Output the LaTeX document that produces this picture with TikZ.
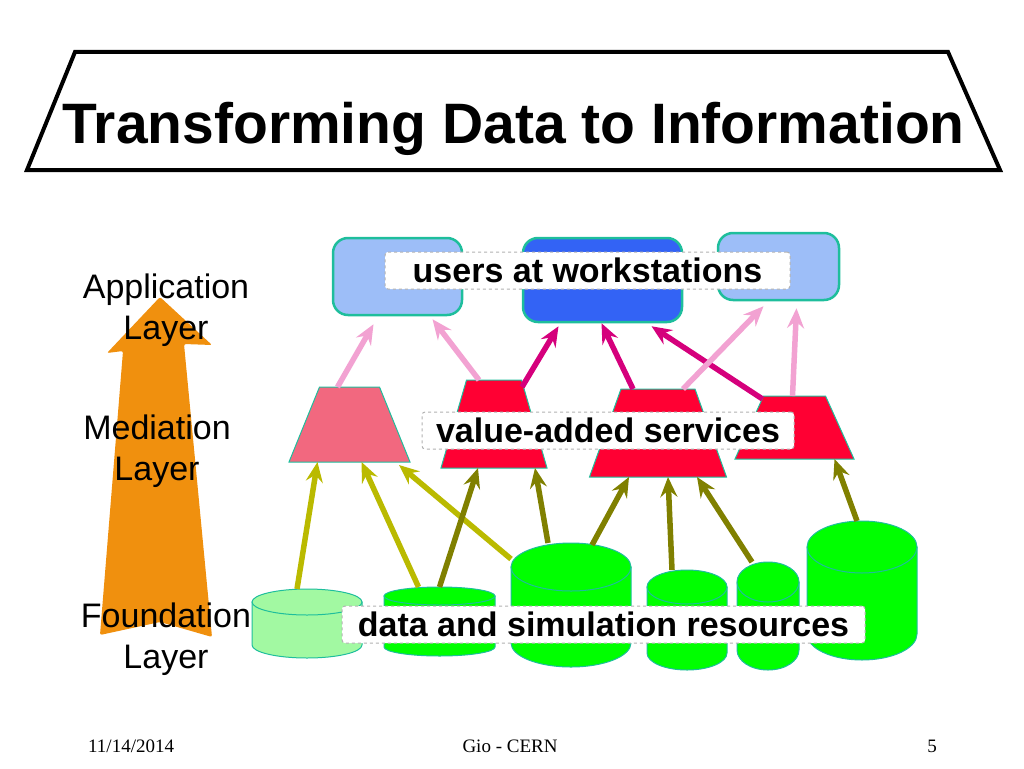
\documentclass[tikz,border=0pt]{standalone}
\usepackage{fontspec}
\setmainfont{Liberation Sans}
\newfontfamily\footfont{Liberation Serif}
\usetikzlibrary{arrows.meta}

\definecolor{PaleBlue}{HTML}{9DBEF8}
\definecolor{DeepBlue}{HTML}{3363F5}
\definecolor{Turquoise}{HTML}{1EBE9C}
\definecolor{Salmon}{HTML}{F2687F}
\definecolor{Crimson}{HTML}{FF0033}
\definecolor{Blush}{HTML}{F2A2D2}
\definecolor{Fuchsia}{HTML}{D5007C}
\definecolor{Mustard}{HTML}{BABA00}
\definecolor{OliveDrab}{HTML}{808000}
\definecolor{Mint}{HTML}{A2F9A2}
\definecolor{Neon}{HTML}{00FF00}
\definecolor{Tangerine}{HTML}{F0900E}

\tikzset{
  station/.style={draw=Turquoise, line width=2.5pt, rounded corners=15pt, inner sep=0pt},
  spot/.style={inner sep=0pt, outer sep=0pt},
  rim/.style={draw=Turquoise, line width=1pt},
  tag/.style={draw=gray!60, dashed, line width=1pt, fill=white, rounded corners=3pt, inner sep=0pt, minimum height=37pt, font=\fontsize{34}{40}\selectfont\bfseries},
  layer/.style={align=center, font=\fontsize{34}{40.5}\selectfont},
  feed/.style={line width=5.5pt, -{Stealth[length=20pt, width=17pt, inset=7pt]}},
  foot/.style={inner sep=0pt, font=\footfont\fontsize{19}{23}\selectfont},
}

% svc: name, centre x, top y, bottom y, top half width, bottom half width, colour
\newcommand\svc[7]{%
  \node[spot, minimum width=2*#6pt, minimum height=#4pt-#3pt, anchor=north] (#1) at (#2,-#3) {};
  \filldraw[rim, fill=#7] (#2-#5,-#3) -- (#2+#5,-#3) -- (#2+#6,-#4) -- (#2-#6,-#4) -- cycle;
}

% can: name, left x, top y, width, height, ellipse radius, colour
\newcommand\can[7]{%
  \node[spot, minimum width=#4pt, minimum height=#5pt, anchor=north west] (#1) at (#2,-#3) {};
  \filldraw[rim, fill=#7] (#2,-#3-#6) -- ++(0,-#5+2*#6) arc[start angle=180, end angle=360, x radius=#4/2, y radius=#6] -- ++(0,#5-2*#6) -- cycle;
  \filldraw[rim, fill=#7] (#2+#4/2,-#3-#6) ellipse[x radius=#4/2, y radius=#6];
}

\begin{document}
\begin{tikzpicture}[x=1pt, y=1pt]
    \useasboundingbox (0,0) rectangle (1024,-768);

    % title
    \draw[line width=4pt] (75,-52) -- (948,-52) -- (1000,-170) -- (27,-170) -- cycle;
    \node[font=\fontsize{57}{60}\selectfont\bfseries, anchor=base] (title) at (513.5,-143) {Transforming Data to Information};

    % layers
    \fill[Tangerine, rounded corners=2pt] (160,-297) -- (212,-345) -- (184,-344) -- (212,-637) -- (160,-622) -- (100,-635) -- (123,-351) -- (107,-353) -- cycle;
    \node[layer] (app) at (166,-310) {Application\\Layer};
    \node[layer] (med) at (157,-451) {Mediation\\Layer};
    \node[layer] (fou) at (166,-639) {Foundation\\Layer};

    % workstations
    \node[station, fill=PaleBlue, minimum width=129pt, minimum height=77pt] (b1) at (397.5,-276.5) {};
    \node[station, fill=DeepBlue, minimum width=159pt, minimum height=84pt] (b2) at (602.5,-280) {};
    \node[station, fill=PaleBlue, minimum width=121pt, minimum height=67pt] (b3) at (778.5,-266.5) {};

    % mediators
    \svc{t1}{349.5}{387}{462}{30}{60.5}{Salmon}
    \svc{t2}{494}{380}{468}{27.5}{53}{Crimson}
    \svc{t3}{658}{389}{477}{37}{68.5}{Crimson}
    \svc{t4}{794.5}{396}{459}{31}{59.5}{Crimson}

    % resources
    \can{c1}{252}{589}{110}{69}{13}{Mint}
    \can{c2}{384}{587}{111}{69}{9}{Neon}
    \can{c3}{511}{543}{120}{124}{24}{Neon}
    \can{c4}{647}{570}{80}{100}{17}{Neon}
    \can{c5}{737}{562}{62}{108}{20}{Neon}
    \can{c6}{807}{521}{110}{139}{26}{Neon}

    \draw[feed, Fuchsia] ([xshift=28pt,yshift=-7pt]t2.north) -- ([xshift=-44pt,yshift=-3pt]b2.south);
    \draw[feed, Fuchsia] ([xshift=-25pt]t3.north) -- ([xshift=-1pt]b2.south);
    \draw[feed, Fuchsia] ([xshift=-32pt,yshift=-3pt]t4.north) -- ([xshift=49pt,yshift=-3pt]b2.south);
    \draw[feed, Blush] ([xshift=-12pt]t1.north) -- ([xshift=-24pt,yshift=-8pt]b1.south);
    \draw[feed, Blush] ([xshift=-15pt]t2.north) -- ([xshift=35pt,yshift=-3pt]b1.south);
    \draw[feed, Blush] ([xshift=25pt]t3.north) -- ([xshift=-15pt,yshift=-5pt]b3.south);
    \draw[feed, Blush] ([xshift=-2pt]t4.north) -- ([xshift=18pt,yshift=-7pt]b3.south);

    \draw[feed, Mustard] ([xshift=-10pt]c1.north) -- ([xshift=-32pt]t1.south);
    \draw[feed, Mustard] ([xshift=-21pt]c2.north) -- ([xshift=12pt]t1.south);
    \draw[feed, Mustard] ([yshift=-16pt]c3.north west) -- ([xshift=-11pt,yshift=-3pt]t1.south east);
    \draw[feed, OliveDrab] (c2.north) -- ([xshift=-16pt]t2.south);
    \draw[feed, OliveDrab] ([xshift=-23pt]c3.north) -- ([xshift=41pt]t2.south);
    \draw[feed, OliveDrab] ([xshift=21pt,yshift=-2pt]c3.north) -- ([xshift=-29pt]t3.south);
    \draw[feed, OliveDrab] ([xshift=-15pt]c4.north) -- ([xshift=10pt]t3.south);
    \draw[feed, OliveDrab] ([xshift=-16pt]c5.north) -- ([xshift=39pt]t3.south);
    \draw[feed, OliveDrab] ([xshift=-5pt]c6.north) -- ([xshift=40pt]t4.south);

    % captions
    \node[tag, minimum width=405pt] (users) at (587.5,-270.5) {users at workstations};
    \node[tag, minimum width=372pt] (services) at (608,-430.5) {value-added services};
    \node[tag, minimum width=523pt] (resources) at (603.5,-624.5) {data and simulation resources};

    % footer
    \node[foot, anchor=base west] (date) at (88,-752) {11/14/2014};
    \node[foot, anchor=base] (who) at (510,-752) {Gio - CERN};
    \node[foot, anchor=base] (page) at (932,-752) {5};
\end{tikzpicture}
\end{document}
